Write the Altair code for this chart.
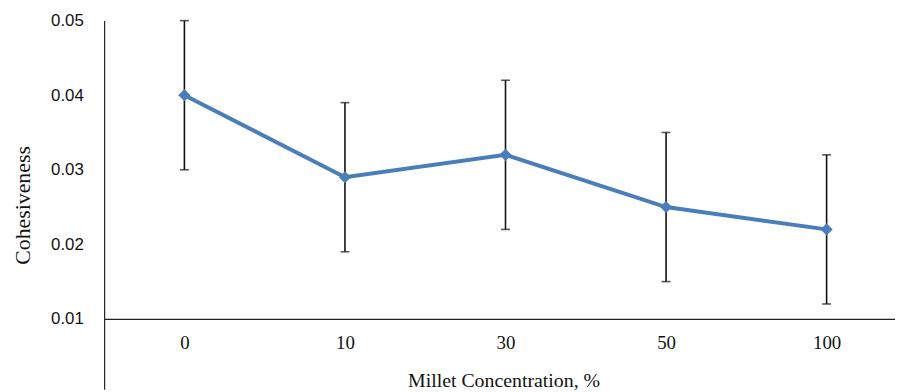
import altair as alt
import pandas as pd
import json

categories = ["0", "10", "30", "50", "100"]
values = [0.040, 0.029, 0.032, 0.025, 0.022]
errors = [0.010, 0.010, 0.010, 0.010, 0.010]
y_ticks = [0.01, 0.02, 0.03, 0.04, 0.05]

df = pd.DataFrame({
    "idx": list(range(len(categories))),
    "cat": categories,
    "val": values,
    "lo": [v - e for v, e in zip(values, errors)],
    "hi": [v + e for v, e in zip(values, errors)],
})

label_expr = json.dumps(categories).replace('"', "'") + "[datum.value]"

xscale = alt.Scale(domain=[-0.5, 4.426], nice=False, zero=False)
yscale = alt.Scale(domain=[0.00056, 0.05], nice=False, zero=False)

x_enc = alt.X("idx:Q", scale=xscale,
              axis=alt.Axis(values=list(range(len(categories))), labelExpr=label_expr,
                            title="Millet Concentration, %", orient="bottom", offset=-71,
                            ticks=False, grid=False, domainColor="#222", domainWidth=1.2,
                            labelFont="Liberation Serif", labelFontSize=19, labelColor="#111",
                            labelPadding=15, titleFont="Liberation Serif", titleFontSize=20,
                            titleFontWeight="normal", titleColor="#111", titlePadding=18,
                            titleX=403))
y_axis = alt.Axis(values=y_ticks, format=".2f", title="Cohesiveness", ticks=False, grid=False,
                  domainColor="#222", domainWidth=1.2,
                  labelFont="Liberation Sans", labelFontSize=17, labelColor="#111", labelPadding=21,
                  titleFont="Liberation Serif", titleFontSize=22, titleFontWeight="normal",
                  titleColor="#111", titlePadding=16)

base = alt.Chart(df)

rules = base.mark_rule(color="#111", strokeWidth=1.6).encode(
    x=x_enc,
    y=alt.Y("lo:Q", scale=yscale, axis=y_axis),
    y2="hi:Q",
)
caps_lo = base.mark_tick(color="#111", orient="horizontal", size=9, thickness=1.6).encode(
    x=alt.X("idx:Q", scale=xscale), y=alt.Y("lo:Q", scale=yscale))
caps_hi = base.mark_tick(color="#111", orient="horizontal", size=9, thickness=1.6).encode(
    x=alt.X("idx:Q", scale=xscale), y=alt.Y("hi:Q", scale=yscale))
line = base.mark_line(color="#4A7EBB", strokeWidth=4).encode(
    x=alt.X("idx:Q", scale=xscale), y=alt.Y("val:Q", scale=yscale))
points = base.mark_point(shape="diamond", filled=True, size=150, color="#4A7EBB", opacity=1).encode(
    x=alt.X("idx:Q", scale=xscale), y=alt.Y("val:Q", scale=yscale))

chart = alt.layer(rules, caps_lo, caps_hi, line, points).properties(
    width=798, height=372,
    autosize=alt.AutoSizeParams(type="none"),
    padding={"left": 97, "top": 11, "right": 0, "bottom": 0},
    background="white",
).configure_view(stroke=None)

chart.save("out.html", embed_options={"renderer": "svg", "actions": False})
